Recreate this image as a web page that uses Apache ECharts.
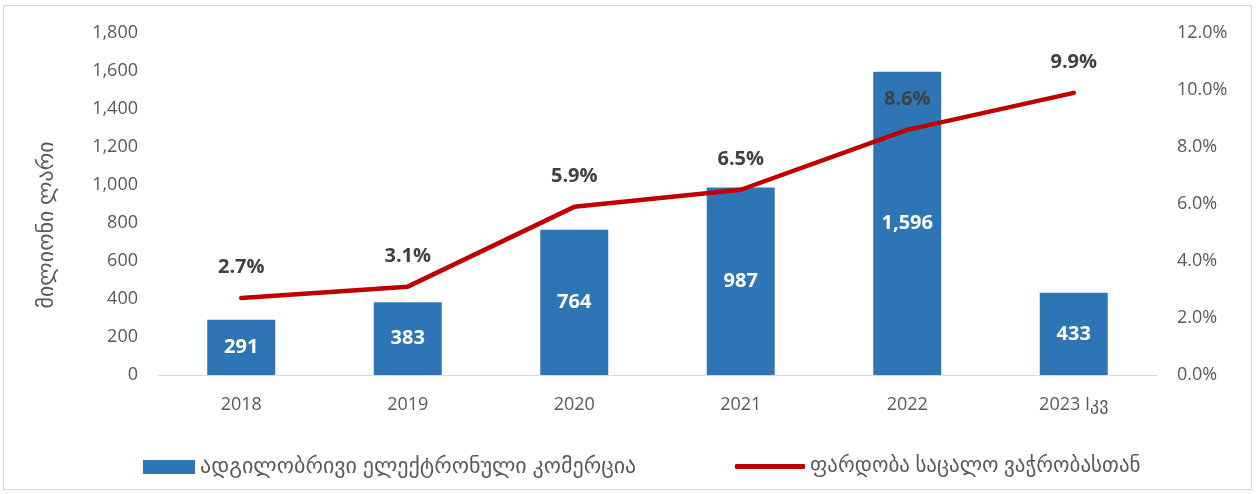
<!DOCTYPE html>
<html>
<head>
<meta charset="utf-8">
<script src="https://cdn.jsdelivr.net/npm/echarts@6/dist/echarts.min.js"></script>
<style>
html,body{margin:0;padding:0;background:#fff;}
#wrap{position:absolute;left:3px;top:5px;width:1249px;height:485px;border:1px solid #d9d9d9;box-sizing:border-box;}
#c{position:absolute;left:0;top:0;width:1257px;height:494px;}
</style>
</head>
<body>
<div id="wrap"></div>
<div id="c"></div>
<script>
const categories = ['2018', '2019', '2020', '2021', '2022', '2023 Iკვ'];
const ecommerce = [291, 383, 764, 987, 1596, 433];
const ratio = [2.7, 3.1, 5.9, 6.5, 8.6, 9.9];
const barName = 'ადგილობრივი ელექტრონული კომერცია';
const lineName = 'ფარდობა საცალო ვაჭრობასთან';
const yAxisName = 'მილიონი ლარი';

const FONT = '"Open Sans", "DejaVu Sans", sans-serif';
const chart = echarts.init(document.getElementById('c'), null, {renderer: 'canvas'});
chart.setOption({
  backgroundColor: 'transparent',
  textStyle: {fontFamily: FONT},
  grid: {left: 158, right: 100, top: 33, bottom: 119},
  legend: [
    {data: [{name: barName, icon: 'rect'}], left: 138, top: 451, itemWidth: 52, itemHeight: 14, itemGap: 10,
     textStyle: {fontSize: 22, color: '#595959', fontFamily: FONT}},
    {data: [{name: lineName, icon: 'roundRect'}], left: 730, top: 451, itemWidth: 70, itemHeight: 5, itemGap: 8,
     textStyle: {fontSize: 21, color: '#595959', fontFamily: FONT}}
  ],
  xAxis: {
    type: 'category', data: categories,
    axisLine: {lineStyle: {color: '#d9d9d9', width: 1}},
    axisTick: {show: false},
    axisLabel: {color: '#595959', fontSize: 18, margin: 21, fontFamily: FONT}
  },
  yAxis: [
    {type: 'value', min: 0, max: 1800, interval: 200,
     name: yAxisName, nameLocation: 'middle', nameGap: 100, nameRotate: 90,
     nameTextStyle: {color: '#595959', fontSize: 22, fontFamily: FONT, padding: [0, 42, 0, 0]},
     axisLine: {show: false}, axisTick: {show: false}, splitLine: {show: false},
     axisLabel: {color: '#595959', fontSize: 18, margin: 20, fontFamily: FONT,
       formatter: v => v.toLocaleString('en-US')}},
    {type: 'value', min: 0, max: 12, interval: 2, position: 'right',
     axisLine: {show: false}, axisTick: {show: false}, splitLine: {show: false},
     axisLabel: {color: '#595959', fontSize: 18, margin: 20, fontFamily: FONT,
       formatter: v => v.toFixed(1) + '%'}}
  ],
  series: [
    {name: barName, type: 'bar', data: ecommerce, barWidth: 68, yAxisIndex: 0,
     itemStyle: {color: '#2E75B6'},
     label: {show: true, position: 'inside', color: '#fff', fontWeight: 'bold', fontSize: 20,
       fontFamily: FONT, formatter: p => p.value.toLocaleString('en-US')}},
    {name: lineName, type: 'line', data: ratio, yAxisIndex: 1,
     showSymbol: true, symbol: 'circle', symbolSize: 1,
     lineStyle: {color: '#C00000', width: 4.5, cap: 'round'},
     itemStyle: {color: '#C00000'},
     label: {show: true, position: 'top', distance: 20, color: '#404040', fontWeight: 'bold',
       fontSize: 20, fontFamily: FONT, formatter: p => p.value.toFixed(1) + '%'}}
  ]
});
</script>
</body>
</html>
